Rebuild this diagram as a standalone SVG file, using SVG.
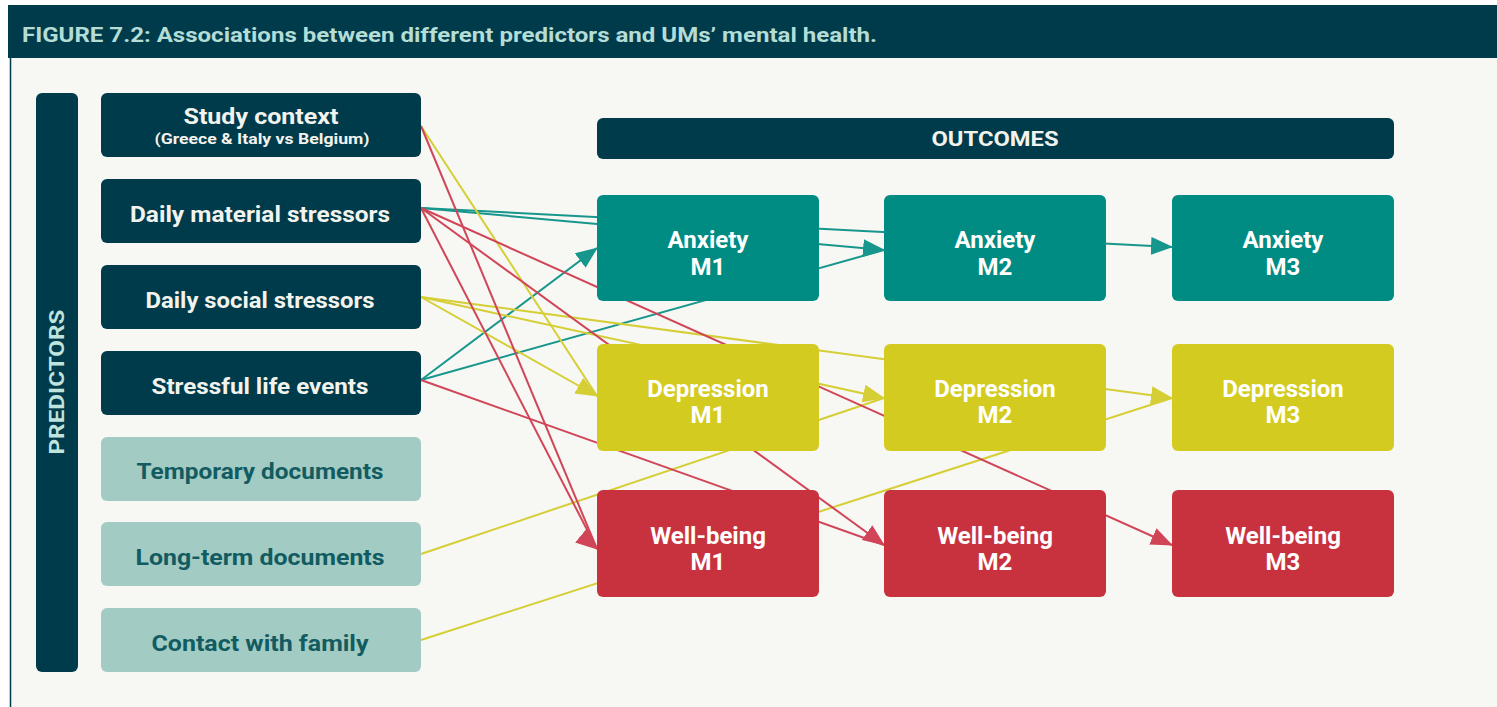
<svg xmlns="http://www.w3.org/2000/svg" width="1497" height="707" viewBox="0 0 1497 707">
  <style>
    .bg { fill: #f7f7f3; }
    .dark { fill: #003b4c; }
    .light { fill: #a1cbc3; }
    .anx { fill: #008c83; }
    .dep { fill: #d3cb20; }
    .wb { fill: #c8323f; }
    .t { font-family: Roboto, "Liberation Sans", sans-serif; font-weight: bold; text-anchor: middle; }
    .pt { fill: #f3f3ee; font-size: 22px; }
    .lt { fill: #125b61; font-size: 22px; }
    .ot { fill: #ffffff; font-size: 24px; }
    .ln { fill: none; stroke-width: 2; }
    .lt-teal { stroke: #17968d; }
    .lt-yel { stroke: #d5ce35; }
    .lt-red { stroke: #d04557; }
  </style>
  <defs>
    <marker id="ah-teal" markerUnits="userSpaceOnUse" markerWidth="22" markerHeight="18" refX="21" refY="9" orient="auto">
      <path d="M0,0 L22,9 L0,18 z" fill="#17968d"/>
    </marker>
    <marker id="ah-yel" markerUnits="userSpaceOnUse" markerWidth="22" markerHeight="18" refX="21" refY="9" orient="auto">
      <path d="M0,0 L22,9 L0,18 z" fill="#d5ce35"/>
    </marker>
    <marker id="ah-red" markerUnits="userSpaceOnUse" markerWidth="22" markerHeight="18" refX="21" refY="9" orient="auto">
      <path d="M0,0 L22,9 L0,18 z" fill="#d04557"/>
    </marker>
    <marker id="ah-red40" markerUnits="userSpaceOnUse" markerWidth="22" markerHeight="18" refX="21" refY="9" orient="40">
      <path d="M0,0 L22,9 L0,18 z" fill="#d04557"/>
    </marker>
  </defs>

  <!-- page -->
  <rect x="0" y="0" width="1497" height="707" fill="#ffffff"/>
  <rect class="bg" x="10" y="58" width="1487" height="649"/>
  <line x1="10.5" y1="58" x2="10.5" y2="707" stroke="#003b4c" stroke-width="1.5"/>

  <!-- title bar -->
  <g id="title">
    <rect class="dark" x="8" y="5" width="1489" height="53"/>
    <text x="22" y="42" font-family="Roboto, 'Liberation Sans', sans-serif" font-weight="bold" font-size="20" fill="#b4ddd6" textLength="855" lengthAdjust="spacingAndGlyphs">FIGURE 7.2: Associations between different predictors and UMs’ mental health.</text>
  </g>

  <!-- connectors -->
  <g id="connectors">
    <!-- anxiety paths -->
    <line class="ln lt-teal" x1="421" y1="208" x2="1172" y2="247" marker-end="url(#ah-teal)"/>
    <line class="ln lt-teal" x1="421" y1="208" x2="884" y2="250" marker-end="url(#ah-teal)"/>
    <line class="ln lt-teal" x1="421" y1="380" x2="597" y2="248" marker-end="url(#ah-teal)"/>
    <line class="ln lt-teal" x1="421" y1="380" x2="884" y2="250"/>
    <!-- depression paths -->
    <line class="ln lt-yel" x1="421" y1="126" x2="597" y2="396"/>
    <line class="ln lt-yel" x1="421" y1="297" x2="597" y2="396" marker-end="url(#ah-yel)"/>
    <line class="ln lt-yel" x1="421" y1="297" x2="884" y2="398" marker-end="url(#ah-yel)"/>
    <line class="ln lt-yel" x1="421" y1="554" x2="884" y2="398"/>
    <line class="ln lt-yel" x1="421" y1="297" x2="1172" y2="398" marker-end="url(#ah-yel)"/>
    <line class="ln lt-yel" x1="421" y1="640" x2="1172" y2="398"/>
    <!-- well-being paths -->
    <line class="ln lt-red" x1="421" y1="126" x2="597" y2="549"/>
    <line class="ln lt-red" x1="421" y1="208" x2="597" y2="549" marker-end="url(#ah-red40)"/>
    <line class="ln lt-red" x1="421" y1="208" x2="884" y2="545" marker-end="url(#ah-red)"/>
    <line class="ln lt-red" x1="421" y1="380" x2="884" y2="545"/>
    <line class="ln lt-red" x1="421" y1="208" x2="1172" y2="545" marker-end="url(#ah-red)"/>
  </g>

  <!-- predictors -->
  <g id="predictors-label">
    <rect class="dark" x="36" y="93" width="42" height="579" rx="6"/>
    <text class="t" x="0" y="0" font-size="21" fill="#bfe3dd" textLength="145" lengthAdjust="spacingAndGlyphs" transform="translate(64,382) rotate(-90)">PREDICTORS</text>
  </g>
  <g id="study-context">
    <rect class="dark" x="101" y="93" width="320" height="64" rx="6"/>
    <text class="t pt" x="261" y="124" textLength="155" lengthAdjust="spacingAndGlyphs">Study context</text>
    <text class="t" x="262" y="144" font-size="14" fill="#f3f3ee" textLength="215" lengthAdjust="spacingAndGlyphs">(Greece &amp; Italy vs Belgium)</text>
  </g>
  <g id="daily-material">
    <rect class="dark" x="101" y="179" width="320" height="64" rx="6"/>
    <text class="t pt" x="260" y="222" textLength="260" lengthAdjust="spacingAndGlyphs">Daily material stressors</text>
  </g>
  <g id="daily-social">
    <rect class="dark" x="101" y="265" width="320" height="64" rx="6"/>
    <text class="t pt" x="260" y="308" textLength="229" lengthAdjust="spacingAndGlyphs">Daily social stressors</text>
  </g>
  <g id="stressful-events">
    <rect class="dark" x="101" y="351" width="320" height="64" rx="6"/>
    <text class="t pt" x="260" y="394" textLength="217" lengthAdjust="spacingAndGlyphs">Stressful life events</text>
  </g>
  <g id="temporary-docs">
    <rect class="light" x="101" y="437" width="320" height="64" rx="6"/>
    <text class="t lt" x="260" y="479" textLength="247" lengthAdjust="spacingAndGlyphs">Temporary documents</text>
  </g>
  <g id="long-term-docs">
    <rect class="light" x="101" y="522" width="320" height="64" rx="6"/>
    <text class="t lt" x="260" y="565" textLength="249" lengthAdjust="spacingAndGlyphs">Long-term documents</text>
  </g>
  <g id="contact-family">
    <rect class="light" x="101" y="608" width="320" height="64" rx="6"/>
    <text class="t lt" x="260" y="651" textLength="217" lengthAdjust="spacingAndGlyphs">Contact with family</text>
  </g>

  <!-- outcomes -->
  <g id="outcomes-label">
    <rect class="dark" x="597" y="118" width="797" height="41" rx="6"/>
    <text class="t" x="995" y="146" font-size="21" fill="#f3f3ee" textLength="127" lengthAdjust="spacingAndGlyphs">OUTCOMES</text>
  </g>
  <g id="anxiety-m1">
    <rect class="anx" x="597" y="195" width="222" height="106" rx="6"/>
    <text class="t ot" x="708" y="248">Anxiety</text>
    <text class="t ot" x="708" y="275">M1</text>
  </g>
  <g id="anxiety-m2">
    <rect class="anx" x="884" y="195" width="222" height="106" rx="6"/>
    <text class="t ot" x="995" y="248">Anxiety</text>
    <text class="t ot" x="995" y="275">M2</text>
  </g>
  <g id="anxiety-m3">
    <rect class="anx" x="1172" y="195" width="222" height="106" rx="6"/>
    <text class="t ot" x="1283" y="248">Anxiety</text>
    <text class="t ot" x="1283" y="275">M3</text>
  </g>
  <g id="depression-m1">
    <rect class="dep" x="597" y="344" width="222" height="107" rx="6"/>
    <text class="t ot" x="708" y="397">Depression</text>
    <text class="t ot" x="708" y="423">M1</text>
  </g>
  <g id="depression-m2">
    <rect class="dep" x="884" y="344" width="222" height="107" rx="6"/>
    <text class="t ot" x="995" y="397">Depression</text>
    <text class="t ot" x="995" y="423">M2</text>
  </g>
  <g id="depression-m3">
    <rect class="dep" x="1172" y="344" width="222" height="107" rx="6"/>
    <text class="t ot" x="1283" y="397">Depression</text>
    <text class="t ot" x="1283" y="423">M3</text>
  </g>
  <g id="wellbeing-m1">
    <rect class="wb" x="597" y="490" width="222" height="107" rx="6"/>
    <text class="t ot" x="708" y="544">Well-being</text>
    <text class="t ot" x="708" y="570">M1</text>
  </g>
  <g id="wellbeing-m2">
    <rect class="wb" x="884" y="490" width="222" height="107" rx="6"/>
    <text class="t ot" x="995" y="544">Well-being</text>
    <text class="t ot" x="995" y="570">M2</text>
  </g>
  <g id="wellbeing-m3">
    <rect class="wb" x="1172" y="490" width="222" height="107" rx="6"/>
    <text class="t ot" x="1283" y="544">Well-being</text>
    <text class="t ot" x="1283" y="570">M3</text>
  </g>
</svg>
